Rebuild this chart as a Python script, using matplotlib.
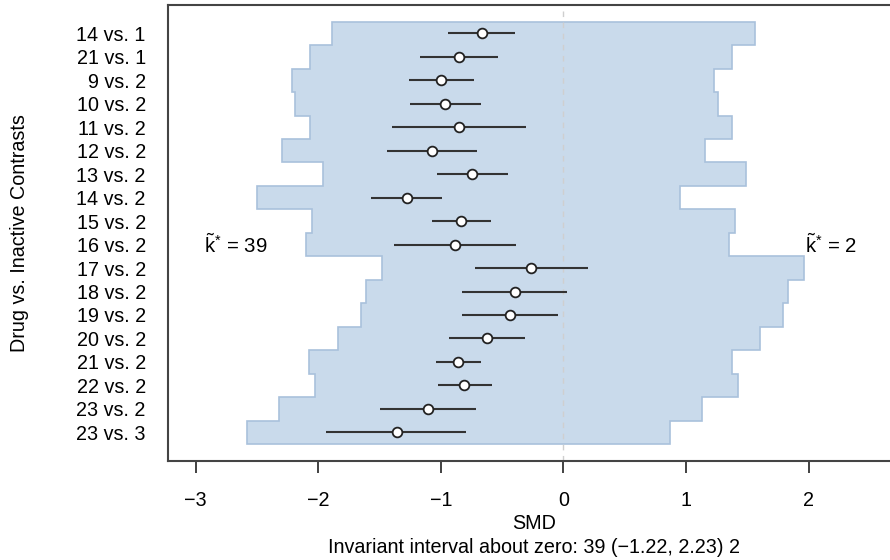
import matplotlib.pyplot as plt
import numpy as np

plt.rcParams['font.family'] = ['Liberation Sans', 'DejaVu Sans']
plt.rcParams['mathtext.fontset'] = 'custom'
plt.rcParams['mathtext.rm'] = 'Liberation Sans'
plt.rcParams['mathtext.it'] = 'Liberation Sans'

# Contrasts, top to bottom
contrasts = ['14 vs. 1', '21 vs. 1', '9 vs. 2', '10 vs. 2', '11 vs. 2', '12 vs. 2',
             '13 vs. 2', '14 vs. 2', '15 vs. 2', '16 vs. 2', '17 vs. 2', '18 vs. 2',
             '19 vs. 2', '20 vs. 2', '21 vs. 2', '22 vs. 2', '23 vs. 2', '23 vs. 3']

smd = [-0.663, -0.851, -0.998, -0.965, -0.853, -1.074, -0.742, -1.278, -0.832,
       -0.883, -0.266, -0.396, -0.437, -0.622, -0.856, -0.807, -1.106, -1.359]
ci_lo = [-0.938, -1.171, -1.261, -1.253, -1.400, -1.441, -1.028, -1.566, -1.071,
         -1.384, -0.720, -0.824, -0.826, -0.932, -1.036, -1.025, -1.495, -1.938]
ci_hi = [-0.391, -0.533, -0.731, -0.674, -0.302, -0.707, -0.449, -0.987, -0.590,
         -0.383, 0.199, 0.033, -0.041, -0.312, -0.674, -0.581, -0.712, -0.794]

# invariant region limits for each contrast
band_lo = [-1.884, -2.066, -2.213, -2.188, -2.066, -2.292, -1.958, -2.496, -2.047,
           -2.099, -1.481, -1.612, -1.653, -1.840, -2.074, -2.025, -2.322, -2.580]
band_hi = [1.566, 1.378, 1.232, 1.264, 1.376, 1.156, 1.488, 0.952, 1.398,
           1.349, 1.966, 1.835, 1.794, 1.607, 1.373, 1.425, 1.129, 0.868]

k_left = 39
k_right = 2
interval = (-1.22, 2.23)

n = len(contrasts)
ypos = np.arange(n, 0, -1)
fs = 14.2

fig = plt.figure(figsize=(8.9, 5.6), dpi=100)
ax = fig.add_axes([0.1888, 0.1773, 0.823, 0.8138])

# stepped band: left side going down, right side coming back up
top = ypos + 0.5
bot = ypos - 0.5
ys_l = np.column_stack([top, bot]).ravel()
xs_l = np.repeat(band_lo, 2)
ys_r = ys_l[::-1]
xs_r = np.repeat(band_hi, 2)[::-1]
ax.fill(np.concatenate([xs_l, xs_r]), np.concatenate([ys_l, ys_r]),
        facecolor='#c9daeb', edgecolor='#a9c1dc', linewidth=1.2, zorder=1)

ax.axvline(0, color='#cfcfcf', linestyle=(0, (4, 4)), linewidth=1.0, zorder=2)

ax.hlines(ypos, ci_lo, ci_hi, color='#333333', linewidth=1.5, zorder=3)
ax.plot(smd, ypos, 'o', markersize=7, markerfacecolor='white',
        markeredgecolor='#222222', markeredgewidth=1.3, zorder=4)

ax.text(-2.93, 9, r'$\tilde{k}^{*}$ = %d' % k_left, fontsize=fs + 0.5, va='center', ha='left')
ax.text(1.97, 9, r'$\tilde{k}^{*}$ = %d' % k_right, fontsize=fs + 0.5, va='center', ha='left')

ax.set_xlim(-3.225, 2.75)
ax.set_ylim(-0.21, 19.21)
ax.set_xticks([-3, -2, -1, 0, 1, 2])
ax.set_yticks(ypos)
ax.set_yticklabels(contrasts)
ax.tick_params(axis='y', length=0, pad=16, labelsize=fs)
ax.tick_params(axis='x', length=8.5, width=1.3, pad=13, labelsize=fs, color='#333333')
for s in ax.spines.values():
    s.set_color('#444444')
    s.set_linewidth(1.5)

ax.set_xlabel('SMD', fontsize=fs, labelpad=3)
ax.set_ylabel('Drug vs. Inactive Contrasts', fontsize=fs, labelpad=34)
ax.text(0.5, -0.19, 'Invariant interval about zero: %d (\u2212%.2f, %.2f) %d'
        % (k_left, -interval[0], interval[1], k_right),
        transform=ax.transAxes, ha='center', va='center', fontsize=fs)

fig.savefig('out.png', dpi=100)
